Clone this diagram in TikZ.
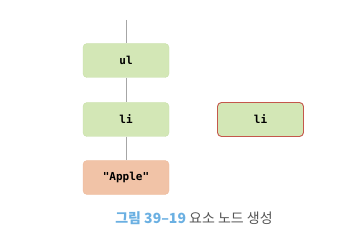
\documentclass[tikz,border=0pt]{standalone}
\usepackage{fontspec}
\setmonofont{DejaVu Sans Mono}
\newfontfamily\krfont{Noto Sans CJK KR}
\usepackage{tikz}
\usetikzlibrary{arrows,shapes}

\definecolor{nodegreen}{HTML}{D3E7B6}
\definecolor{nodegreenline}{HTML}{C9E0A9}
\definecolor{textorange}{HTML}{F1C3A7}
\definecolor{textorangeline}{HTML}{EDBB9E}
\definecolor{newline}{HTML}{C4574B}
\definecolor{capblue}{HTML}{6BB0E2}
\definecolor{capgray}{HTML}{555555}

\tikzset{
  elem/.style={draw=nodegreenline, fill=nodegreen, rounded corners=4pt,
    minimum width=86pt, minimum height=34pt, font=\ttfamily\bfseries\fontsize{11}{13}\selectfont},
  textnode/.style={elem, draw=textorangeline, fill=textorange},
  newelem/.style={elem, draw=newline, line width=0.9pt},
  link/.style={draw=gray!70, line width=0.6pt}
}

\begin{document}
\begin{tikzpicture}[x=1pt,y=-1pt]
    \useasboundingbox (0,0) rectangle (354,246);
    \coordinate (top) at (126,20);
    \node[elem] (ul) at (126,60.5) {ul};
    \node[elem] (li) at (126,119.5) {li};
    \node[textnode] (apple) at (126,177.5) {"Apple"};
    \node[newelem] (newli) at (260.5,119.5) {li};
    \draw[link] (top) -- (ul);
    \draw[link] (ul) -- (li);
    \draw[link] (li) -- (apple);
    \node[font=\krfont\fontsize{14}{16}\selectfont, anchor=center] (caption) at (194,218)
      {\textcolor{capblue}{\bfseries 그림 39–19}\ \textcolor{capgray}{요소 노드 생성}};
  \end{tikzpicture}
\end{document}
